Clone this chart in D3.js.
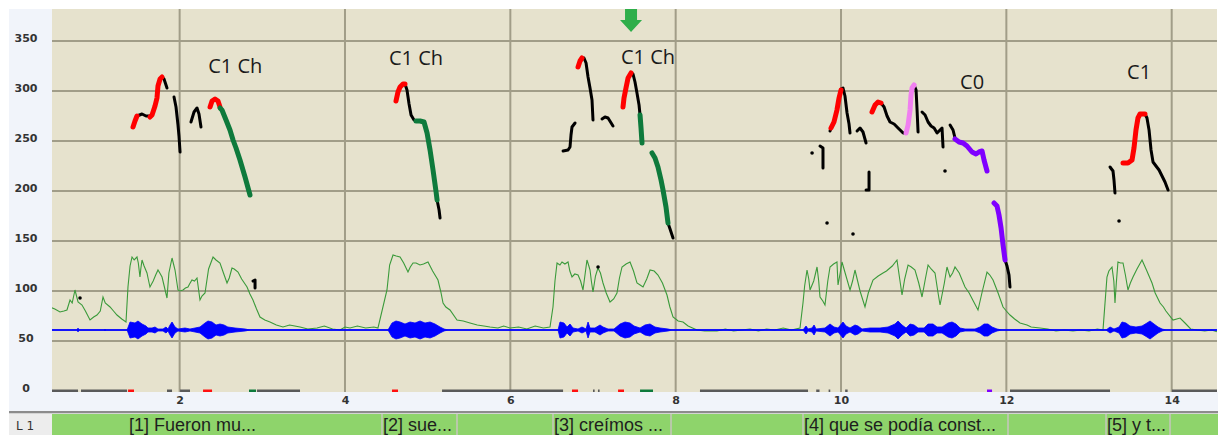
<!DOCTYPE html>
<html><head><meta charset="utf-8">
<script src="https://cdn.jsdelivr.net/npm/d3@7"></script>
<style>
html,body{margin:0;padding:0;background:#fff;}
svg{display:block;}
</style></head>
<body>
<svg id="chart" width="1218" height="435"></svg>
<script>
// ---------- DATA ----------
const xTicks = [2, 4, 6, 8, 10, 12, 14];
const yTicks = [0, 50, 100, 150, 200, 250, 300, 350];

// intensity curve [time s, value]
const intensity = [[0.432,84],[0.49,82],[0.553,79],[0.60,80],[0.637,81],[0.674,91],[0.70,88],[0.734,101],[0.771,89],[0.819,86],[0.86,80],[0.916,71],[0.96,74],[1.000,76],[1.04,80],[1.073,94],[1.10,88],[1.158,84],[1.20,80],[1.242,76],[1.30,72],[1.351,69],[1.375,104],[1.424,134],[1.484,134],[1.520,114],[1.545,131],[1.605,118],[1.641,104],[1.738,121],[1.787,114],[1.847,93],[1.908,133],[1.944,121],[1.980,101],[2.041,101],[2.101,104],[2.149,111],[2.210,113],[2.246,91],[2.307,98],[2.404,134],[2.488,128],[2.573,108],[2.633,123],[2.706,119],[2.815,104],[2.887,91],[2.972,74],[3.093,69],[3.17,66],[3.250,64],[3.33,66],[3.456,64],[3.55,62],[3.662,63],[3.75,65],[3.85,62],[3.940,61],[4.00,64],[4.061,63],[4.15,65],[4.25,63],[4.35,64],[4.399,63],[4.508,101],[4.581,136],[4.666,134],[4.762,119],[4.823,128],[4.907,126],[5.004,129],[5.125,111],[5.186,88],[5.270,81],[5.355,71],[5.43,70],[5.512,68],[5.60,66],[5.68,65],[5.754,64],[5.85,63],[5.92,65],[5.996,63],[6.10,64],[6.20,62],[6.30,65],[6.40,63],[6.480,64],[6.516,84],[6.565,128],[6.625,129],[6.698,129],[6.746,114],[6.819,116],[6.879,101],[6.927,131],[6.964,121],[7.000,99],[7.060,123],[7.121,108],[7.206,89],[7.290,98],[7.351,124],[7.448,129],[7.532,108],[7.605,104],[7.690,121],[7.786,116],[7.895,96],[7.968,74],[8.03,70],[8.089,69],[8.15,65],[8.258,61],[8.35,60],[8.500,60],[8.60,62],[8.70,60],[8.80,61],[8.899,62],[9.00,60],[9.10,62],[9.20,61],[9.30,63],[9.40,61],[9.504,63],[9.540,88],[9.589,121],[9.625,101],[9.710,124],[9.746,94],[9.806,86],[9.867,124],[9.951,129],[9.964,106],[10.012,129],[10.109,101],[10.169,121],[10.290,84],[10.387,111],[10.508,118],[10.677,131],[10.738,96],[10.811,126],[10.895,121],[10.980,94],[11.053,126],[11.137,118],[11.198,86],[11.282,124],[11.319,114],[11.379,124],[11.500,104],[11.657,81],[11.766,119],[11.839,111],[11.960,84],[12.044,76],[12.10,72],[12.165,68],[12.25,66],[12.30,64],[12.407,63],[12.50,62],[12.60,60],[12.70,61],[12.806,60],[12.90,61],[13.00,60],[13.10,62],[13.169,61],[13.217,114],[13.278,124],[13.314,88],[13.350,129],[13.411,128],[13.471,101],[13.532,114],[13.641,131],[13.762,108],[13.859,88],[13.93,80],[14.016,71],[14.101,73],[14.161,68],[14.230,62],[14.306,61],[14.40,60],[14.48,61],[14.560,59]];
// finer intensity readings inside the spoken stretches
const intensityDetail = [[1.40,125],[1.45,131],[1.50,128],[1.53,122],[1.57,125],[1.62,112],[1.68,110],[1.71,116],[1.76,118],[1.81,106],[1.87,118],[1.92,129],[2.00,100],[2.07,103],[2.12,107],[2.18,110],[2.27,95],[2.35,122],[2.44,131],[2.53,118],[2.60,113],[2.66,122],[2.75,112],[2.85,97],[2.93,82],[3.03,71],
[4.54,126],[4.62,135],[4.71,128],[4.79,124],[4.86,128],[4.95,127],[5.06,120],[5.16,99],[5.22,84],
[6.54,110],[6.60,126],[6.66,127],[6.72,120],[6.78,117],[6.85,110],[6.95,125],[6.98,110],[7.03,115],[7.09,118],[7.16,98],[7.25,92],[7.32,113],[7.40,127],[7.49,120],[7.57,106],[7.65,112],[7.74,120],[7.84,108],[7.93,84],
[9.56,105],[9.61,112],[9.67,110],[9.73,110],[9.78,90],[9.84,110],[9.91,127],[9.99,118],[10.05,118],[10.14,110],[10.23,100],[10.33,98],[10.45,115],[10.55,120],[10.62,125],[10.71,112],[10.77,112],[10.85,124],[10.94,108],[11.02,112],[11.09,122],[11.17,100],[11.25,108],[11.35,118],[11.43,118],[11.55,98],[11.60,90],[11.71,100],[11.80,116],[11.90,98],[12.00,80],
[13.24,120],[13.30,110],[13.33,108],[13.38,128],[13.44,116],[13.50,108],[13.58,122],[13.70,120],[13.80,98],[13.90,84]];

// waveform: centre level and envelope [time s, amplitude]
const waveLevel = 61;
const waveEnvelope = [[0.456,0],[0.76,0],[0.771,2],[0.78,0],[1.09,0],[1.097,1],[1.105,0],
[1.364,0],[1.400,8],[1.460,7],[1.496,9],[1.545,6],[1.593,4],[1.617,2],[1.666,2],[1.702,3],[1.738,1],[1.799,1],[1.835,3],[1.859,1],[1.884,5],[1.908,8],[1.944,3],[1.980,1],[2.065,2],[2.125,1],[2.186,2],[2.246,3],[2.307,7],[2.343,9],[2.392,8],[2.440,5],[2.488,6],[2.537,5],[2.583,3],[2.670,2],[2.791,1],[2.851,0],
[4.520,0],[4.569,7],[4.617,9],[4.666,8],[4.726,6],[4.787,8],[4.847,7],[4.908,9],[4.968,7],[5.029,8],[5.089,6],[5.150,3],[5.198,1],[5.247,0],
[6.577,0],[6.601,8],[6.649,7],[6.686,3],[6.722,6],[6.758,2],[6.819,1],[6.867,3],[6.916,1],[6.940,8],[6.964,2],[7.024,2],[7.085,5],[7.121,3],[7.182,1],[7.254,1],[7.327,6],[7.387,8],[7.448,7],[7.496,4],[7.569,2],[7.629,5],[7.690,6],[7.750,3],[7.811,2],[7.907,1],[7.956,0],
[9.540,0],[9.577,4],[9.601,1],[9.650,2],[9.674,5],[9.698,1],[9.806,2],[9.867,6],[9.915,3],[9.964,2],[10.024,8],[10.061,4],[10.109,2],[10.169,5],[10.206,4],[10.254,1],[10.351,2],[10.472,2],[10.569,3],[10.653,6],[10.690,9],[10.738,5],[10.787,2],[10.835,6],[10.884,5],[10.932,2],[11.005,2],[11.053,6],[11.113,6],[11.162,3],[11.222,3],[11.295,7],[11.343,8],[11.391,6],[11.440,2],[11.500,1],[11.621,1],[11.682,3],[11.730,6],[11.778,6],[11.827,3],[11.887,1],[11.948,0],
[13.206,0],[13.254,3],[13.302,1],[13.363,3],[13.399,8],[13.447,7],[13.496,4],[13.568,3],[13.641,4],[13.701,7],[13.738,9],[13.786,6],[13.835,3],[13.883,1],[13.931,0],[14.548,0]];

// pitch contours (Hz) by colour
const pitchBlack = [
 [[1.484,275],[1.545,277],[1.593,275],[1.641,275]],
 [[1.787,314],[1.811,312],[1.847,303]],
 [[1.932,294],[1.956,284],[1.980,266],[1.992,255],[2.005,239]],
 [[2.137,269],[2.174,279],[2.210,283],[2.234,277],[2.258,264]],
 [[2.888,110],[2.912,111],[2.912,103]],
 [[4.726,307],[4.750,301],[4.775,287],[4.799,276],[4.835,271],[4.859,270]],
 [[5.114,191],[5.138,181],[5.150,173]],
 [[6.638,240],[6.698,241],[6.722,244],[6.734,256],[6.746,264],[6.783,268]],
 [[6.891,333],[6.916,328],[6.940,314],[6.964,303],[6.988,291],[7.000,271]],
 [[7.109,272],[7.145,274],[7.182,273],[7.242,265]],
 [[7.484,317],[7.508,309],[7.532,298],[7.557,286],[7.569,276]],
 [[7.907,168],[7.932,162],[7.968,153]],
 [[9.746,245],[9.782,243],[9.782,223]],
 [[9.867,260],[9.879,263]],
 [[10.000,302],[10.024,303],[10.048,295],[10.073,278],[10.097,267],[10.109,258]],
 [[10.194,260],[10.230,263],[10.266,259],[10.303,248]],
 [[10.339,219],[10.339,201],[10.303,201]],
 [[10.484,288],[10.521,284],[10.557,275],[10.593,269],[10.642,267],[10.690,263],[10.751,258],[10.787,258]],
 [[10.884,306],[10.908,301],[10.920,281],[10.932,259]],
 [[10.980,279],[11.017,276],[11.053,269],[11.089,265],[11.126,263],[11.162,258],[11.198,261],[11.222,263],[11.234,244]],
 [[11.319,266],[11.355,261],[11.379,253]],
 [[11.984,131],[12.008,125],[12.032,116],[12.044,104]],
 [[13.254,224],[13.290,220],[13.302,211],[13.314,198]],
 [[13.677,277],[13.701,273],[13.726,261],[13.750,241],[13.774,229],[13.810,225],[13.847,221],[13.883,215],[13.919,209],[13.956,201]]
];
const pitchRed = [
 [[1.436,264],[1.460,270],[1.484,275]],
 [[1.641,274],[1.666,276],[1.702,285],[1.726,293],[1.738,305],[1.763,312],[1.787,314]],
 [[2.368,284],[2.392,290],[2.428,292],[2.464,290],[2.488,284]],
 [[4.617,290],[4.641,299],[4.666,304],[4.702,307],[4.726,307]],
 [[6.819,324],[6.843,330],[6.867,333]],
 [[7.363,284],[7.375,293],[7.399,303],[7.424,313],[7.460,318]],
 [[9.879,263],[9.915,269],[9.951,281],[9.976,293],[10.000,301]],
 [[10.375,279],[10.412,286],[10.448,289],[10.484,288]],
 [[13.411,228],[13.471,228],[13.520,231],[13.544,243],[13.568,261],[13.592,273],[13.617,277],[13.677,277]]
];
const pitchGreen = [
 [[2.488,283],[2.512,281],[2.561,271],[2.609,261],[2.646,251],[2.682,243],[2.730,231],[2.791,214],[2.851,196]],
 [[4.859,270],[4.908,270],[4.956,269],[4.993,258],[5.029,241],[5.065,221],[5.102,199],[5.114,191]],
 [[7.569,276],[7.581,263],[7.593,248]],
 [[7.714,238],[7.750,233],[7.786,224],[7.823,211],[7.847,201],[7.883,184],[7.907,168]]
];
const pitchPink = [
 [[10.787,258],[10.811,266],[10.835,281],[10.847,296],[10.859,303],[10.884,306]]
];
const pitchPurple = [
 [[11.379,252],[11.428,249],[11.476,248],[11.524,245],[11.585,239],[11.633,237],[11.669,239],[11.706,240],[11.730,231],[11.766,220]],
 [[11.851,188],[11.887,185],[11.911,176],[11.936,163],[11.960,146],[11.984,131]]
];
const pitchDots = [[0.795,93],[7.061,124],[9.650,238],[9.831,168],[10.145,157],[11.258,220],[13.363,170]];

// marks along the 0 line [start, end]
const baseGray = [[0.456,0.771],[0.807,1.364],[1.847,1.908],[2.005,2.125],[2.936,3.456],[5.174,6.638],[7.00,7.02],[7.06,7.08],[8.294,9.601],[9.70,9.74],[9.85,9.87],[10.05,10.08],[12.044,13.254],[14.004,14.548]];
const baseRed = [[1.376,1.448],[2.283,2.392],[4.569,4.641],[6.746,6.819],[7.303,7.375]];
const baseGreen = [[2.839,2.924],[7.569,7.726]];
const basePurple = [[11.766,11.827]];

// annotations
const annoText = ["C1 Ch", "C1 Ch", "C1 Ch", "C0", "C1"];
const annoTime = [2.345, 4.532, 7.339, 11.44, 13.46];
const annoHz = [318, 326, 327, 302, 312];
const arrowTime = 7.46;

// tier
const tierLabels = ["[1] Fueron mu...", "[2] sue...", "[3] creímos ...", "[4] que se podía const...", "[5] y t..."];
const tierStart = [1.375, 4.448, 6.516, 9.540, 13.206];
const tierEnd = [2.996, 5.355, 7.944, 12.020, 13.980];
const tierName = "L 1";

// ---------- DRAW ----------
const svg = d3.select("#chart");
const W = 1218, H = 435;
const L = 52, R = 1217, T = 9, B = 392;
const x = d3.scaleLinear().domain([0.456, 14.548]).range([L, R]);
const y = d3.scaleLinear().domain([0, 383]).range([391, 8]);

svg.append("rect").attr("width", W).attr("height", H).attr("fill", "#ffffff");
svg.append("rect").attr("x", 9).attr("y", T).attr("width", L - 9).attr("height", B - T).attr("fill", "#f1f4fa");
svg.append("rect").attr("x", 9).attr("y", B).attr("width", W - 9).attr("height", 20).attr("fill", "#f1f4fa");

const clipId = "plotclip";
svg.append("clipPath").attr("id", clipId).append("rect").attr("x", L).attr("y", T).attr("width", R - L).attr("height", B - T);
const plot = svg.append("g").attr("clip-path", `url(#${clipId})`);
plot.append("rect").attr("x", L).attr("y", T).attr("width", R - L).attr("height", B - T).attr("fill", "#e6e2cd");

// grid
plot.selectAll("line.vg").data(xTicks).join("line")
  .attr("x1", d => x(d)).attr("x2", d => x(d)).attr("y1", T).attr("y2", B)
  .attr("stroke", "#a19d88").attr("stroke-width", 2);
plot.selectAll("line.hg").data(yTicks.filter(d => d > 0)).join("line")
  .attr("x1", L).attr("x2", R).attr("y1", d => y(d)).attr("y2", d => y(d))
  .attr("stroke", "#a19d88").attr("stroke-width", 2);

// base row marks
function baseMarks(arr, color) {
  plot.append("g").selectAll("line").data(arr).join("line")
    .attr("x1", d => x(d[0])).attr("x2", d => x(d[1]))
    .attr("y1", y(0)).attr("y2", y(0))
    .attr("stroke", color).attr("stroke-width", 3);
}
baseMarks(baseGray, "#5a5a5a");
baseMarks(baseRed, "#ff1010");
baseMarks(baseGreen, "#0e7a3c");
baseMarks(basePurple, "#8000ff");

// intensity
const intensityAll = intensity.concat(intensityDetail).sort((a, b) => a[0] - b[0]);
plot.append("path").datum(intensityAll)
  .attr("d", d3.line().x(d => x(d[0])).y(d => y(d[1])))
  .attr("fill", "none").attr("stroke", "#3a9a3a").attr("stroke-width", 1.1);

// waveform
plot.append("line").attr("x1", L).attr("x2", R).attr("y1", y(waveLevel)).attr("y2", y(waveLevel))
  .attr("stroke", "#0000ff").attr("stroke-width", 1.5);
plot.append("path").datum(waveEnvelope)
  .attr("d", d3.area().x(d => x(d[0])).y0(d => y(waveLevel - d[1])).y1(d => y(waveLevel + d[1])))
  .attr("fill", "#0000ff").attr("stroke", "#0000ff").attr("stroke-width", 0.8);

// pitch
const pline = d3.line().x(d => x(d[0])).y(d => y(d[1]));
function pitch(arr, color, w) {
  plot.append("g").selectAll("path").data(arr).join("path")
    .attr("d", pline).attr("fill", "none").attr("stroke", color)
    .attr("stroke-width", w).attr("stroke-linecap", "round").attr("stroke-linejoin", "round");
}
pitch(pitchBlack, "#000000", 3);
pitch(pitchRed, "#ff0000", 5);
pitch(pitchGreen, "#0e7a3c", 5);
pitch(pitchPink, "#f07ff0", 5);
pitch(pitchPurple, "#7f00ff", 5);
plot.append("g").selectAll("circle").data(pitchDots).join("circle")
  .attr("cx", d => x(d[0])).attr("cy", d => y(d[1])).attr("r", 1.8).attr("fill", "#000");

// annotations
plot.append("g").selectAll("text").data(annoText).join("text")
  .attr("x", (d, i) => x(annoTime[i])).attr("y", (d, i) => y(annoHz[i]))
  .attr("font-family", "'Open Sans', sans-serif").attr("font-size", 20).attr("fill", "#1a1a1a")
  .text(d => d);

// arrow
const ax = x(arrowTime);
plot.append("path")
  .attr("d", `M${ax-6},${T-2} L${ax+6},${T-2} L${ax+6},${T+11} L${ax+11},${T+11} L${ax},${T+23} L${ax-11},${T+11} L${ax-6},${T+11} Z`)
  .attr("fill", "#2fae4a");

// axes
const yAxis = svg.append("g").attr("transform", `translate(${L},0)`)
  .call(d3.axisLeft(y).tickValues(yTicks).tickSize(0).tickFormat(d3.format("d")));
yAxis.select(".domain").remove();
yAxis.selectAll("text").attr("x", 26 - L).attr("dy", "0").attr("y", 0)
  .attr("text-anchor", "middle")
  .attr("font-family", "'DejaVu Sans', sans-serif").attr("font-weight", "bold").attr("font-size", 11).attr("fill", "#333");

const xAxis = svg.append("g").attr("transform", `translate(0,${B})`)
  .call(d3.axisBottom(x).tickValues(xTicks).tickSize(0).tickFormat(d3.format("d")));
xAxis.select(".domain").remove();
xAxis.selectAll("text").attr("y", 12).attr("dy", "0")
  .attr("font-family", "'DejaVu Sans', sans-serif").attr("font-weight", "bold").attr("font-size", 11).attr("fill", "#333");

// separator
svg.append("rect").attr("x", 9).attr("y", 411).attr("width", W - 9).attr("height", 2).attr("fill", "#8c8c8c");
svg.append("rect").attr("x", 9).attr("y", 413).attr("width", W - 9).attr("height", 1).attr("fill", "#d4d4d4");

// tier row
svg.append("rect").attr("x", 9).attr("y", 414).attr("width", L - 9).attr("height", H - 414).attr("fill", "#ededed");
svg.append("text").attr("x", 16).attr("y", 430).attr("font-family", "'DejaVu Sans', sans-serif")
  .attr("font-size", 12).attr("fill", "#333").text(tierName);
svg.append("rect").attr("x", L).attr("y", 414).attr("width", W - L).attr("height", H - 414).attr("fill", "#8ed46b");
const tier = svg.append("g");
tier.selectAll("line.s").data(tierStart.slice(1)).join("line")
  .attr("x1", d => x(d)).attr("x2", d => x(d)).attr("y1", 414).attr("y2", H)
  .attr("stroke", "#b9c9aa").attr("stroke-width", 2);
tier.selectAll("line.e").data(tierEnd.slice(1)).join("line")
  .attr("x1", d => x(d)).attr("x2", d => x(d)).attr("y1", 414).attr("y2", H)
  .attr("stroke", "#b9c9aa").attr("stroke-width", 2);
tier.selectAll("text").data(tierLabels).join("text")
  .attr("x", (d, i) => x(tierStart[i]) + 1).attr("y", 431)
  .attr("font-family", "'Liberation Sans', Arial, sans-serif").attr("font-size", 18).attr("fill", "#1e1e1e")
  .text(d => d);
</script>
</body></html>
